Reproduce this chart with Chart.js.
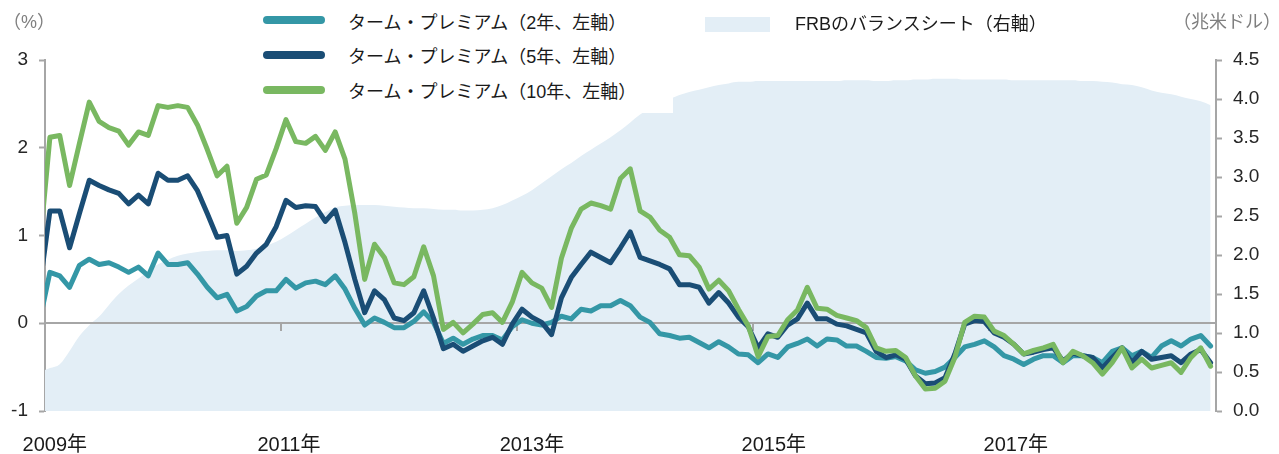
<!DOCTYPE html>
<html lang="ja">
<head>
<meta charset="utf-8">
<script src="https://cdn.jsdelivr.net/npm/chart.js@4.4.1/dist/chart.umd.min.js"></script>
<style>
  html, body { margin: 0; padding: 0; background: #fff; }
  #wrap { position: relative; width: 1279px; height: 454px; font-family: "Liberation Sans", "Noto Sans CJK JP", sans-serif; }
  #chart { position: absolute; left: 0; top: 0; }
  .unit { position: absolute; top: 11px; font-size: 18px; line-height: 22px; color: #7f7f7f; white-space: nowrap; }
  #legendBg { position: absolute; left: 250px; top: 0; width: 423px; height: 113px; background: #fff; }
  .sw { position: absolute; left: 263px; width: 62px; height: 8px; border-radius: 4px; }
  .lt { position: absolute; left: 348px; font-size: 18px; line-height: 22px; color: #1a1a1a; white-space: nowrap; }
</style>
</head>
<body>
<div id="wrap">
  <canvas id="chart" width="1279" height="454"></canvas>
  <div class="unit" style="left:3px">（%）</div>
  <div class="unit" style="left:1173px">（兆米ドル）</div>

  <div id="legendBg"></div>
  <div class="sw" style="top:16px;background:#3497a6"></div>
  <div class="lt" style="top:12px">ターム・プレミアム（2年、左軸）</div>
  <div class="sw" style="top:51px;background:#1a4d75"></div>
  <div class="lt" style="top:46px">ターム・プレミアム（5年、左軸）</div>
  <div class="sw" style="top:86px;background:#79b861"></div>
  <div class="lt" style="top:81px">ターム・プレミアム（10年、左軸）</div>

  <div style="position:absolute;left:705px;top:17px;width:65px;height:15px;background:#e3eef6"></div>
  <div class="lt" style="left:795px;top:13px">FRBのバランスシート（右軸）</div>
</div>

<script>
// 月次データ。先頭は2008年12月（軸の外側でクリップされる）、末尾は2018年11月
const termPremium2y = [
  0.05,
  0.58, 0.54, 0.41, 0.66, 0.73, 0.67, 0.69, 0.64, 0.58, 0.64,
  0.54, 0.80, 0.67, 0.67, 0.69, 0.56, 0.41, 0.29, 0.33, 0.14,
  0.19, 0.31, 0.37, 0.37, 0.50, 0.40, 0.46, 0.48, 0.44, 0.54,
  0.39, 0.17, -0.02, 0.06, 0.01, -0.05, -0.05, 0.02, 0.13, 0.01,
  -0.23, -0.17, -0.24, -0.18, -0.14, -0.14, -0.19, -0.04, 0.04, 0.00,
  -0.02, 0.01, 0.08, 0.05, 0.16, 0.14, 0.20, 0.20, 0.26, 0.20,
  0.07, 0.01, -0.12, -0.14, -0.17, -0.16, -0.22, -0.28, -0.21, -0.27,
  -0.35, -0.36, -0.45, -0.35, -0.39, -0.27, -0.23, -0.18, -0.26, -0.18,
  -0.19, -0.26, -0.26, -0.32, -0.39, -0.40, -0.38, -0.43, -0.53, -0.57,
  -0.55, -0.50, -0.39, -0.27, -0.24, -0.20, -0.27, -0.37, -0.41, -0.47,
  -0.41, -0.37, -0.37, -0.45, -0.37, -0.37, -0.39, -0.45, -0.32, -0.28,
  -0.37, -0.32, -0.39, -0.26, -0.20, -0.26, -0.18, -0.14, -0.26
];
const termPremium5y = [
  0.44,
  1.28, 1.28, 0.86, 1.25, 1.63, 1.57, 1.52, 1.48, 1.36, 1.46,
  1.36, 1.71, 1.63, 1.63, 1.68, 1.51, 1.25, 0.98, 1.00, 0.56,
  0.65, 0.80, 0.90, 1.10, 1.40, 1.32, 1.34, 1.33, 1.16, 1.29,
  0.92, 0.50, 0.12, 0.37, 0.27, 0.06, 0.03, 0.12, 0.37, 0.06,
  -0.29, -0.24, -0.32, -0.26, -0.20, -0.16, -0.24, -0.01, 0.16, 0.07,
  0.01, -0.13, 0.29, 0.52, 0.67, 0.81, 0.75, 0.69, 0.86, 1.04,
  0.75, 0.71, 0.67, 0.62, 0.44, 0.44, 0.41, 0.23, 0.35, 0.23,
  0.07, -0.04, -0.28, -0.12, -0.16, -0.02, 0.05, 0.23, 0.05, 0.05,
  -0.01, -0.03, -0.07, -0.11, -0.32, -0.39, -0.36, -0.41, -0.60, -0.69,
  -0.68, -0.62, -0.35, -0.01, 0.03, 0.02, -0.11, -0.16, -0.24, -0.35,
  -0.33, -0.30, -0.28, -0.43, -0.34, -0.37, -0.39, -0.51, -0.39, -0.28,
  -0.45, -0.32, -0.41, -0.39, -0.37, -0.45, -0.35, -0.30, -0.45
];
const termPremium10y = [
  0.92,
  2.12, 2.14, 1.57, 2.05, 2.52, 2.30, 2.23, 2.19, 2.03, 2.18,
  2.14, 2.48, 2.46, 2.48, 2.46, 2.26, 1.98, 1.68, 1.79, 1.14,
  1.32, 1.64, 1.69, 1.99, 2.32, 2.07, 2.05, 2.13, 1.97, 2.18,
  1.87, 1.25, 0.50, 0.90, 0.75, 0.46, 0.44, 0.53, 0.87, 0.54,
  -0.07, 0.01, -0.11, -0.01, 0.10, 0.12, 0.01, 0.24, 0.58, 0.46,
  0.40, 0.18, 0.74, 1.08, 1.30, 1.37, 1.34, 1.30, 1.65, 1.76,
  1.28, 1.21, 1.06, 0.98, 0.78, 0.77, 0.64, 0.39, 0.49, 0.37,
  0.16, -0.03, -0.38, -0.15, -0.14, 0.04, 0.15, 0.41, 0.17, 0.16,
  0.09, 0.06, 0.03, -0.05, -0.28, -0.32, -0.31, -0.39, -0.60, -0.75,
  -0.74, -0.66, -0.39, 0.01, 0.08, 0.07, -0.09, -0.14, -0.24, -0.35,
  -0.31, -0.28, -0.24, -0.45, -0.32, -0.37, -0.45, -0.58, -0.45, -0.28,
  -0.51, -0.41, -0.51, -0.48, -0.45, -0.56, -0.39, -0.28, -0.49
];
const fedBalanceSheet = [
  0.50,
  0.55, 0.60, 0.77, 0.96, 1.10, 1.21, 1.36, 1.50, 1.61, 1.70,
  1.79, 1.88, 1.94, 1.99, 2.02, 2.04, 2.05, 2.06, 2.06, 2.05,
  2.06, 2.08, 2.12, 2.17, 2.24, 2.32, 2.40, 2.48, 2.55, 2.61,
  2.63, 2.64, 2.64, 2.64, 2.63, 2.62, 2.61, 2.60, 2.60, 2.59,
  2.58, 2.58, 2.57, 2.57, 2.58, 2.60, 2.64, 2.70, 2.76, 2.83,
  2.92, 3.01, 3.10, 3.18, 3.27, 3.35, 3.43, 3.51, 3.60, 3.70,
  3.80, 3.88, 3.95, 4.00, 4.05, 4.09, 4.12, 4.15, 4.18, 4.20,
  4.22, 4.22, 4.23, 4.23, 4.23, 4.23, 4.23, 4.23, 4.23, 4.23,
  4.23, 4.24, 4.24, 4.24, 4.23, 4.23, 4.24, 4.24, 4.25, 4.25,
  4.26, 4.26, 4.26, 4.25, 4.25, 4.25, 4.25, 4.25, 4.24, 4.24,
  4.24, 4.24, 4.24, 4.24, 4.24, 4.23, 4.23, 4.22, 4.21, 4.19,
  4.18, 4.15, 4.11, 4.08, 4.06, 4.03, 4.00, 3.97, 3.92
];

// x軸は2009年1月=0 の月番号
const yearLabels = ['2009年', '2011年', '2013年', '2015年', '2017年'];
const yearLabelAt = [0.5, 24.3, 49.0, 73.6, 98.2];
const yearBoundaryAt = [-0.5, 23.5, 47.5, 71.5, 95.5];

const toPoints = arr => arr.map((v, i) => ({ x: i - 1, y: v }));

const axisGray = '#a6a6a6';
const tickFont = { family: '"Liberation Sans", Arial, sans-serif', size: 19 };

// ゼロ線と年の目盛はバランスシートの面の上、線の下に描く
const zeroLine = {
  id: 'zeroLine',
  afterDatasetDraw(chart, args) {
    if (args.index !== 3) return;
    const { ctx, chartArea, scales } = chart;
    const y0 = Math.round(scales.y.getPixelForValue(0));
    ctx.save();
    ctx.strokeStyle = axisGray;
    ctx.lineWidth = 2;
    ctx.beginPath();
    ctx.moveTo(chartArea.left, y0);
    ctx.lineTo(chartArea.right, y0);
    yearBoundaryAt.forEach(m => {
      const x = Math.round(scales.x.getPixelForValue(m));
      ctx.moveTo(x, y0);
      ctx.lineTo(x, y0 + 8);
    });
    ctx.stroke();
    ctx.restore();
  }
};

const lineStyle = {
  borderWidth: 5,
  pointRadius: 0,
  tension: 0,
  borderJoinStyle: 'round',
  borderCapStyle: 'round',
  clip: 0,
  yAxisID: 'y'
};

new Chart(document.getElementById('chart'), {
  type: 'line',
  data: {
    datasets: [
      { ...lineStyle, label: 'ターム・プレミアム（10年、左軸）', data: toPoints(termPremium10y), borderColor: '#79b861', order: 1 },
      { ...lineStyle, label: 'ターム・プレミアム（5年、左軸）', data: toPoints(termPremium5y), borderColor: '#1a4d75', order: 2 },
      { ...lineStyle, label: 'ターム・プレミアム（2年、左軸）', data: toPoints(termPremium2y), borderColor: '#3497a6', order: 3 },
      {
        label: 'FRBのバランスシート（右軸）',
        data: toPoints(fedBalanceSheet),
        yAxisID: 'y1',
        fill: 'origin',
        backgroundColor: '#e3eef6',
        borderWidth: 0,
        pointRadius: 0,
        cubicInterpolationMode: 'monotone',
        clip: 0,
        order: 4
      }
    ]
  },
  options: {
    responsive: false,
    animation: false,
    devicePixelRatio: 1,
    layout: { padding: { top: 60, left: 0, right: 0, bottom: 0 } },
    plugins: { legend: { display: false }, tooltip: { enabled: false } },
    scales: {
      x: {
        type: 'linear',
        min: -0.5,
        max: 118.55,
        grid: { display: false, drawTicks: false },
        border: { display: false },
        afterBuildTicks: s => { s.ticks = yearLabelAt.map(v => ({ value: v })); },
        afterFit: s => { s.height = 43; },
        ticks: {
          autoSkip: false,
          maxRotation: 0,
          padding: 22,
          color: '#1a1a1a',
          font: { family: '"Liberation Sans", "Noto Sans CJK JP", sans-serif', size: 20 },
          callback: (v, i) => yearLabels[i]
        }
      },
      y: {
        position: 'left',
        min: -1,
        max: 3,
        afterFit: s => { s.width = 45; },
        grid: { drawOnChartArea: false, tickLength: 6, tickColor: axisGray, tickWidth: 2 },
        border: { color: axisGray, width: 2 },
        ticks: { stepSize: 1, padding: 11, color: '#262626', font: tickFont }
      },
      y1: {
        position: 'right',
        min: 0,
        max: 4.5,
        afterFit: s => { s.width = 63; },
        grid: { drawOnChartArea: false, tickLength: 6, tickColor: axisGray, tickWidth: 2 },
        border: { color: axisGray, width: 2 },
        ticks: { stepSize: 0.5, padding: 11, color: '#262626', font: tickFont, callback: v => v.toFixed(1) }
      }
    }
  },
  plugins: [zeroLine]
});
</script>
</body>
</html>
